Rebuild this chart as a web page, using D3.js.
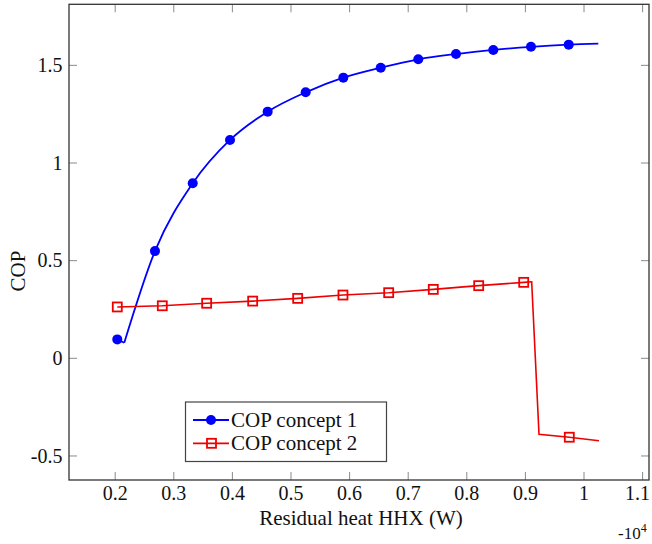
<!DOCTYPE html>
<html>
<head>
<meta charset="utf-8">
<script src="https://cdn.jsdelivr.net/npm/d3@7"></script>
<style>
  html, body { margin: 0; padding: 0; background: #fff; }
  svg { display: block; }
  text { fill: #111; }
</style>
</head>
<body>
<svg id="chart" width="652" height="544" font-family="'Liberation Serif', 'Times New Roman', Times, 'DejaVu Serif', serif"></svg>
<script>
// ---- data (x in units of 10^4 W) ----
const c1MarkX = [0.2036, 0.2679, 0.3323, 0.3959, 0.4602, 0.5251, 0.5893, 0.6531, 0.7172, 0.7816, 0.8452, 0.9095, 0.9739];
const c1MarkY = [0.097, 0.549, 0.896, 1.118, 1.263, 1.362, 1.437, 1.488, 1.531, 1.558, 1.579, 1.595, 1.606];
// curve of concept 1 (start, dip, marker points, end)
const c1LineX = [0.2036, 0.2155, 0.2679, 0.3323, 0.3959, 0.4602, 0.5251, 0.5893, 0.6531, 0.7172, 0.7816, 0.8452, 0.9095, 0.9739, 1.0244];
const c1LineY = [0.097, 0.080, 0.549, 0.896, 1.118, 1.263, 1.362, 1.437, 1.488, 1.531, 1.558, 1.579, 1.595, 1.606, 1.611];

const c2MarkX = [0.2036, 0.2804, 0.3561, 0.4346, 0.5114, 0.5887, 0.6667, 0.7428, 0.8203, 0.8971, 0.9749];
const c2MarkY = [0.263, 0.269, 0.282, 0.293, 0.307, 0.324, 0.336, 0.353, 0.372, 0.389, -0.404];
const c2LineX = [0.2036, 0.2804, 0.3561, 0.4346, 0.5114, 0.5887, 0.6667, 0.7428, 0.8203, 0.8971, 0.9107, 0.9232, 0.9749, 1.0256];
const c2LineY = [0.263, 0.269, 0.282, 0.293, 0.307, 0.324, 0.336, 0.353, 0.372, 0.389, 0.392, -0.389, -0.404, -0.422];

const xTicks = [0.2, 0.3, 0.4, 0.5, 0.6, 0.7, 0.8, 0.9, 1.0, 1.1];
const xTickLabels = ["0.2", "0.3", "0.4", "0.5", "0.6", "0.7", "0.8", "0.9", "1", "1.1"];
const yTicks = [-0.5, 0, 0.5, 1, 1.5];
const yTickLabels = ["-0.5", "0", "0.5", "1", "1.5"];
const seriesNames = ["COP concept 1", "COP concept 2"];
const xLabel = "Residual heat HHX (W)";
const yLabel = "COP";

// ---- layout ----
const L = 69, R = 649, T = 4.3, B = 480;
const blue = "#0000ff", red = "#ee0000";
const svg = d3.select("#chart");

const x = d3.scaleLinear().domain([0.1212, 1.1109]).range([L, R]);
const y = d3.scaleLinear().domain([-0.623, 1.8126]).range([B, T]);

// ticks (inside, all four sides)
const tickLen = 8;
const tickG = svg.append("g").attr("stroke", "#8a8a8a").attr("stroke-width", 1);
xTicks.forEach(v => {
  tickG.append("line").attr("x1", x(v)).attr("x2", x(v)).attr("y1", B).attr("y2", B - tickLen);
  tickG.append("line").attr("x1", x(v)).attr("x2", x(v)).attr("y1", T).attr("y2", T + tickLen);
});
yTicks.forEach(v => {
  tickG.append("line").attr("x1", L).attr("x2", L + tickLen).attr("y1", y(v)).attr("y2", y(v));
  tickG.append("line").attr("x1", R).attr("x2", R - tickLen).attr("y1", y(v)).attr("y2", y(v));
});

// tick labels
svg.append("g").selectAll("text").data(xTicks).join("text")
  .attr("x", (d, i) => i === xTicks.length - 1 ? 650 : x(d)).attr("y", 499.5)
  .attr("text-anchor", (d, i) => i === xTicks.length - 1 ? "end" : "middle").attr("font-size", 20)
  .text((d, i) => xTickLabels[i]);
svg.append("g").selectAll("text").data(yTicks).join("text")
  .attr("x", 62.5).attr("y", d => y(d)).attr("dy", "0.34em")
  .attr("text-anchor", "end").attr("font-size", 20)
  .text((d, i) => yTickLabels[i]);

// axis labels
svg.append("text").attr("x", (L + R) / 2 + 2).attr("y", 525)
  .attr("text-anchor", "middle").attr("font-size", 21).text(xLabel);
svg.append("text").attr("transform", "translate(25,271) rotate(-90)")
  .attr("text-anchor", "middle").attr("font-size", 21).text(yLabel);
const sci = svg.append("text").attr("x", 618).attr("y", 539).attr("font-size", 17);
sci.append("tspan").text("-10");
sci.append("tspan").attr("dy", -7).attr("font-size", 12).text("4");

// clip
svg.append("clipPath").attr("id", "clip").append("rect")
  .attr("x", L).attr("y", T).attr("width", R - L).attr("height", B - T);
const plot = svg.append("g").attr("clip-path", "url(#clip)");

// concept 1 line: straight start to dip, smooth afterwards
const c1 = c1LineX.map((v, i) => [v, c1LineY[i]]);
const lineLin = d3.line().x(d => x(d[0])).y(d => y(d[1]));
const lineSmooth = d3.line().x(d => x(d[0])).y(d => y(d[1])).curve(d3.curveMonotoneX);
plot.append("path").attr("d", lineLin(c1.slice(0, 2)))
  .attr("fill", "none").attr("stroke", blue).attr("stroke-width", 1.8);
plot.append("path").attr("d", lineSmooth(c1.slice(1)))
  .attr("fill", "none").attr("stroke", blue).attr("stroke-width", 1.8).attr("stroke-linejoin", "round");

// concept 2 line
const c2 = c2LineX.map((v, i) => [v, c2LineY[i]]);
plot.append("path").attr("d", lineLin(c2))
  .attr("fill", "none").attr("stroke", red).attr("stroke-width", 1.6).attr("stroke-linejoin", "miter");

// markers
plot.append("g").selectAll("circle").data(c1MarkX).join("circle")
  .attr("cx", d => x(d)).attr("cy", (d, i) => y(c1MarkY[i])).attr("r", 5)
  .attr("fill", blue);
const sq = 9;
plot.append("g").selectAll("rect").data(c2MarkX).join("rect")
  .attr("x", d => x(d) - sq / 2).attr("y", (d, i) => y(c2MarkY[i]) - sq / 2)
  .attr("width", sq).attr("height", sq)
  .attr("fill", "none").attr("stroke", red).attr("stroke-width", 1.8);

// frame
svg.append("rect").attr("x", L).attr("y", T).attr("width", R - L).attr("height", B - T)
  .attr("fill", "none").attr("stroke", "#333").attr("stroke-width", 1.3);

// legend
const lg = svg.append("g");
lg.append("rect").attr("x", 185.5).attr("y", 402).attr("width", 201).attr("height", 59.5)
  .attr("fill", "#fff").attr("stroke", "#444").attr("stroke-width", 1.2);
const ly = [420, 443.3];
[blue, red].forEach((c, i) => {
  lg.append("line").attr("x1", 193).attr("x2", 229).attr("y1", ly[i]).attr("y2", ly[i])
    .attr("stroke", c).attr("stroke-width", 1.8);
  if (i === 0) {
    lg.append("circle").attr("cx", 211).attr("cy", ly[i]).attr("r", 5).attr("fill", c);
  } else {
    lg.append("rect").attr("x", 211.5 - sq / 2).attr("y", ly[i] - sq / 2).attr("width", sq).attr("height", sq)
      .attr("fill", "none").attr("stroke", c).attr("stroke-width", 1.8);
  }
  lg.append("text").attr("x", 231).attr("y", ly[i]).attr("dy", "0.34em")
    .attr("font-size", 21).text(seriesNames[i]);
});
</script>
</body>
</html>
